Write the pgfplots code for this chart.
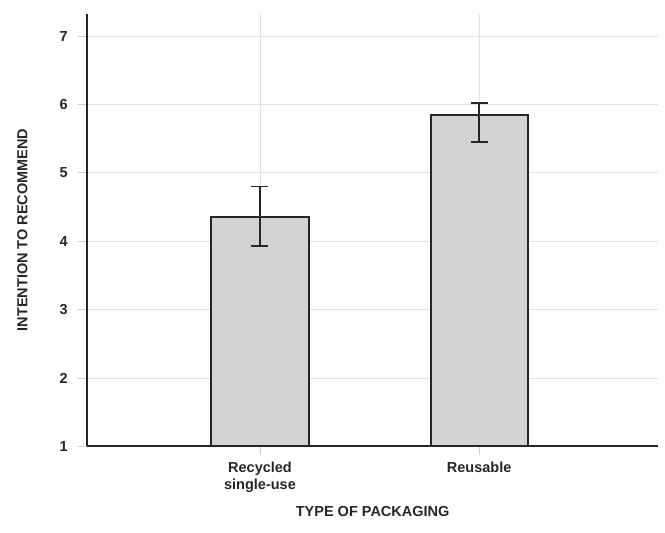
\documentclass[border=0pt]{standalone}
\usepackage{pgfplots}
\pgfplotsset{compat=1.18}
\usepackage{fontspec}
\setmainfont{Liberation Sans}
\definecolor{barfill}{HTML}{D3D3D3}
\definecolor{dark}{HTML}{262626}
\definecolor{gridc}{HTML}{E2E2E2}
\begin{document}
\begin{tikzpicture}
\path[use as bounding box] (-87.3pt,-86pt) rectangle (577.7pt,446.3pt);
\begin{axis}[
  at={(0,0)}, anchor=south west,
  scale only axis, width=570.7pt, height=432.7pt,
  xmin=-0.788, xmax=1.816, ymin=1, ymax=7.33,
  axis x line*=bottom, axis y line*=left,
  axis line style={dark, line width=2pt, -},
  ytick={1,2,3,4,5,6,7},
  xtick={0,1},
  xticklabels={{Recycled\\single-use},{Reusable}},
  xticklabel style={align=center, yshift=-3pt},
  yticklabel style={xshift=-7pt},
  ymajorgrids, xmajorgrids,
  grid style={gridc, line width=0.8pt},
  tick style={gridc!80!gray, line width=0.8pt},
  tick align=outside, major tick length=9pt,
  ticklabel style={font=\fontsize{14.5}{17}\selectfont\bfseries, text=dark},
  /pgf/number format/assume math mode=true,
  xlabel={TYPE OF PACKAGING},
  ylabel={INTENTION TO RECOMMEND},
  label style={font=\fontsize{14.5}{17}\selectfont\bfseries, text=dark},
  xlabel style={at={(axis description cs:0.5,-0.15)}, anchor=center},
  ylabel style={at={(axis description cs:-0.1139,0.5)}, anchor=center},
]
\addplot[ybar, bar width=0.443, fill=barfill, draw=dark, line width=2pt,
  error bars/.cd, y dir=both, y explicit,
  error bar style={dark, line width=1.5pt},
  error mark options={rotate=90, mark size=8.5pt, line width=1.5pt, dark}]
  coordinates {
    (0,4.36) += (0,0.44) -= (0,0.43)
    (1,5.85) += (0,0.17) -= (0,0.40)
  };
\end{axis}
\end{tikzpicture}
\end{document}
